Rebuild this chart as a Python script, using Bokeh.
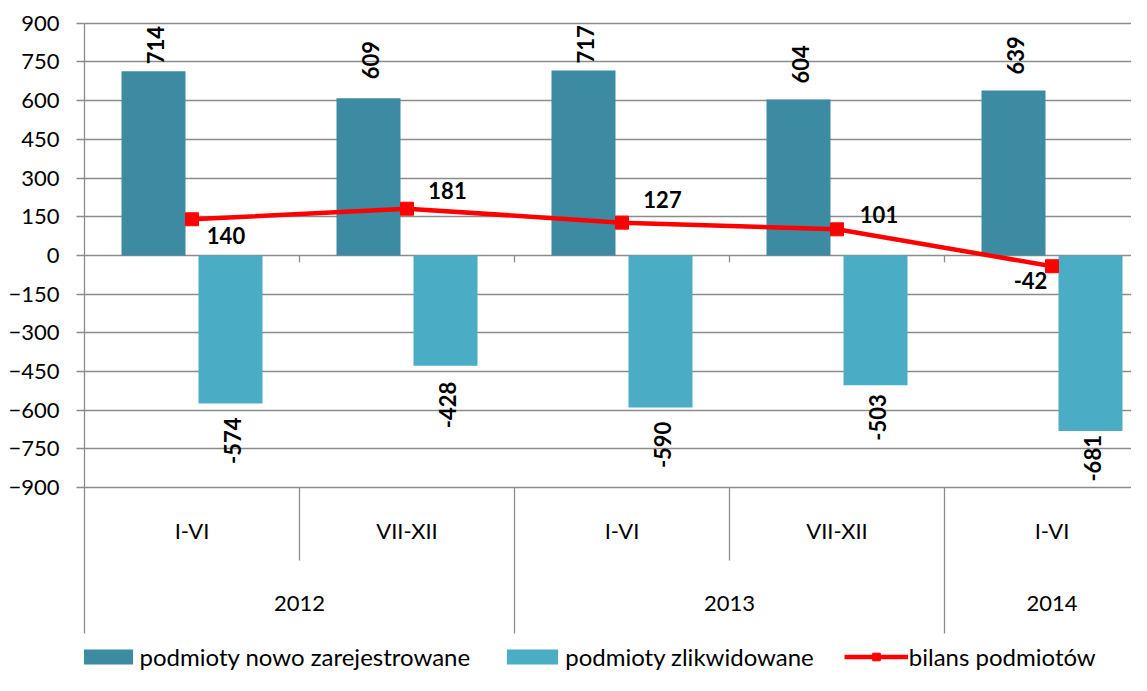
import math
from bokeh.plotting import figure
from bokeh.models import (Range1d, FixedTicker, ColumnDataSource, Legend, LegendItem)
from bokeh.core.properties import value
from bokeh.embed import file_html
from bokeh.resources import INLINE

# ---------------- data ----------------
periods = ["I-VI", "VII-XII", "I-VI", "VII-XII", "I-VI"]
years = ["2012", "2013", "2014"]
year_spans = [2, 2, 1]                       # half-years per year
registered = [714, 609, 717, 604, 639]       # podmioty nowo zarejestrowane
liquidated = [-574, -428, -590, -503, -681]  # podmioty zlikwidowane
balance = [140, 181, 127, 101, -42]          # bilans podmiotów
y_ticks = list(range(-900, 901, 150))

# ---------------- layout constants ----------------
W, H = 1131, 675
LEFT = 84                     # frame left inside figure
SLOT_PX = 215.0               # pixel width of one category slot
PX = 1800 / 464.4             # data units per pixel (vertical)
Y_TOP = 900 + 22.7 * PX       # 900 gridline sits 22.7px below the top

def ydat(py):
    return Y_TOP - py * PX

FONT = "Lato"
GRID = "#8C8C8C"
DARK = "#3C8BA3"
LIGHT = "#4BACC6"
RED = "#FF0000"

n = len(periods)
centers = [i + 0.5 for i in range(n)]
dodge = 38.5 / SLOT_PX
bw = 64 / SLOT_PX

p = figure(width=W, height=H, x_range=Range1d(0, (W - LEFT) / SLOT_PX),
           y_range=Range1d(ydat(H), Y_TOP), x_axis_type=None,
           output_backend="svg", toolbar_location=None,
           min_border_left=LEFT, min_border_right=0, min_border_top=0, min_border_bottom=0)
p.outline_line_color = None
p.background_fill_color = "white"
p.border_fill_color = "white"
p.xgrid.visible = False
p.ygrid.ticker = FixedTicker(ticks=y_ticks)
p.ygrid.grid_line_color = GRID
p.ygrid.grid_line_width = 1.3

ax = p.yaxis[0]
ax.ticker = FixedTicker(ticks=y_ticks)
ax.bounds = (ydat(633), 900)
ax.axis_line_color = GRID
ax.axis_line_width = 1.3
ax.major_tick_line_color = GRID
ax.major_tick_line_width = 1.3
ax.major_tick_out = 8
ax.major_tick_in = 0
ax.minor_tick_line_color = None
ax.major_label_text_font = FONT
ax.major_label_text_font_size = "22px"
ax.major_label_text_color = "black"
ax.major_label_standoff = 17

# ---------------- category axis (drawn) ----------------
bounds_all = list(range(1, n))
year_edges = []
acc = 0
for s in year_spans[:-1]:
    acc += s
    year_edges.append(acc)
short_edges = [b for b in bounds_all if b not in year_edges]

p.segment(x0=bounds_all, y0=[0] * len(bounds_all), x1=bounds_all,
          y1=[ydat(254.9 + 7)] * len(bounds_all), line_color=GRID, line_width=1.3)
p.segment(x0=short_edges, y0=[-900] * len(short_edges), x1=short_edges,
          y1=[ydat(560)] * len(short_edges), line_color=GRID, line_width=1.3)
p.segment(x0=year_edges, y0=[-900] * len(year_edges), x1=year_edges,
          y1=[ydat(633)] * len(year_edges), line_color=GRID, line_width=1.3)

p.text(x=centers, y=[ydat(530)] * n, text=periods, text_align="center",
       text_baseline="middle", text_font=value(FONT), text_font_size="22px",
       text_color="black")
ystarts = [0]
for s in year_spans[:-1]:
    ystarts.append(ystarts[-1] + s)
ycenters = [a + s / 2 for a, s in zip(ystarts, year_spans)]
p.text(x=ycenters, y=[ydat(603)] * len(years), text=years, text_align="center",
       text_baseline="middle", text_font=value(FONT), text_font_size="22px",
       text_color="black")

# ---------------- bars ----------------
r1 = p.vbar(x=[c - dodge for c in centers], top=registered, bottom=0, width=bw,
            fill_color=DARK, line_color=None)
r2 = p.vbar(x=[c + dodge for c in centers], top=liquidated, bottom=0, width=bw,
            fill_color=LIGHT, line_color=None)

# ---------------- balance line ----------------
r3 = p.line(x=centers, y=balance, line_color=RED, line_width=4.5)
r4 = p.scatter(x=centers, y=balance, marker="square", size=13,
               fill_color=RED, line_color=RED)

# ---------------- data labels ----------------
pos_off = [-7, -19, -7, -16, -16]
neg_off = [14, 16, 14, 9, 4]
src_pos = ColumnDataSource(dict(x=[c - dodge for c in centers], y=registered,
                                t=[str(v) for v in registered], yo=pos_off))
p.text(x="x", y="y", text="t", y_offset="yo", x_offset=2, source=src_pos,
       angle=math.pi / 2, text_align="left", text_baseline="middle",
       text_font=value(FONT), text_font_size="22px", text_font_style="bold",
       text_color="black")
src_neg = ColumnDataSource(dict(x=[c + dodge for c in centers], y=liquidated,
                                t=[str(v) for v in liquidated], yo=neg_off))
p.text(x="x", y="y", text="t", y_offset="yo", x_offset=2, source=src_neg,
       angle=math.pi / 2, text_align="right", text_baseline="middle",
       text_font=value(FONT), text_font_size="22px", text_font_style="bold",
       text_color="black")

bal_xo = [34, 40.5, 40.5, 42, -21.5]
bal_yo = [16, -18, -23, -15, 14]
src_bal = ColumnDataSource(dict(x=centers, y=balance, t=[str(v) for v in balance],
                                xo=bal_xo, yo=bal_yo))
p.text(x="x", y="y", text="t", x_offset="xo", y_offset="yo", source=src_bal,
       text_align="center", text_baseline="middle", text_font=value(FONT),
       text_font_size="22px", text_font_style="bold", text_color="black")

# ---------------- legend ----------------
legend = Legend(items=[
    LegendItem(label="podmioty nowo zarejestrowane", renderers=[r1]),
    LegendItem(label="podmioty zlikwidowane", renderers=[r2]),
    LegendItem(label="bilans podmiotów", renderers=[r3, r4]),
], orientation="horizontal", location=(-9.5, 4), glyph_width=64, glyph_height=19,
    label_standoff=1, spacing=30, padding=0, margin=0, border_line_color=None,
    background_fill_alpha=0, label_text_font=FONT, label_text_font_size="24px",
    label_text_color="black")
p.add_layout(legend)

open("out.html", "w").write(file_html(p, INLINE))
